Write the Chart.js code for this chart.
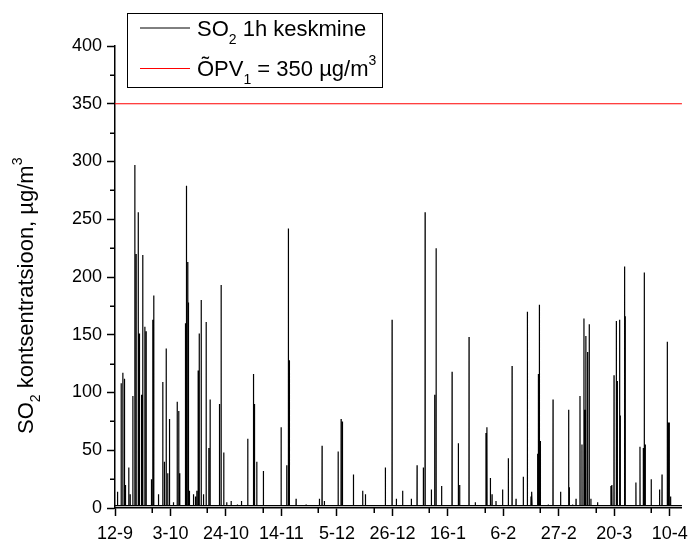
<!DOCTYPE html>
<html>
<head>
<meta charset="utf-8">
<script src="https://cdn.jsdelivr.net/npm/chart.js@4.4.1/dist/chart.umd.min.js"></script>
<style>
  html, body { margin: 0; padding: 0; background: #fff; }
  canvas { display: block; }
</style>
</head>
<body>
<canvas id="c" width="691" height="541"></canvas>
<script>
// ---- DATA (x = hours since 12-9 00:00) ----
const tickLabels = ['12-9','3-10','24-10','14-11','5-12','26-12','16-1','6-2','27-2','20-3','10-4'];
const yTicks = [0, 50, 100, 150, 200, 250, 300, 350, 400];
const limitValue = 350;
const seriesName = 'SO₂ 1h keskmine';
const limitName = 'ÕPV₁ = 350 µg/m³';

const hours = [0,
  22,23,24, 55,56,57, 70,71,72, 85,86,87, 94,95,96, 124,125,126, 137,138,139, 161,162,163,
  179,180,181, 191,192,193, 210,211,212, 221,222,223, 240,241,242, 251,252,253, 270,271,272, 282,283,284,
  330,331,332, 342,343,344, 351,352,353, 394,395,396, 433,434,435, 448,449,450, 464,465,466, 478,479,480,
  494,495,496, 530,531,532, 564,565,566, 578,579,580, 587,588,589, 639,640,641, 648,649,650, 660,661,662,
  666,667,668, 675,676,677, 712,713,714, 730,731,732, 742,743,744, 754,755,756, 764,765,766, 782,783,784,
  803,804,805, 827,828,829, 851,852,853, 863,864,865, 948,949,950, 963,964,965, 987,988,989, 1014,1015,1016,
  1054,1055,1056, 1111,1112,1113, 1148,1149,1150, 1205,1206,1207, 1257,1258,1259, 1266,1267,1268, 1287,1288,1289, 1347,1348,1349,
  1508,1509,1510, 1559,1560,1561, 1574,1575,1576, 1583,1584,1585, 1644,1645,1646, 1735,1736,1737, 1856,1857,1858, 1880,1881,1882,
  1901,1902,1903, 2026,2027,2028, 2053,2054,2055, 2065,2066,2067, 2165,2166,2167, 2249,2250,2251, 2274,2275,2276, 2455,2456,2457,
  2516,2517,2518, 2555,2556,2557, 2612,2613,2614, 2691,2692,2693, 2743,2744,2745, 2800,2801,2802, 2816,2817,2818, 2873,2874,2875,
  2903,2904,2905, 2916,2917,2918, 2966,2967,2968, 3061,3062,3063, 3118,3119,3120, 3130,3131,3132, 3215,3216,3217, 3272,3273,3274,
  3369,3370,3371, 3378,3379,3380, 3409,3410,3411, 3424,3425,3426, 3460,3461,3462, 3520,3521,3522, 3572,3573,3574, 3606,3607,3608,
  3642,3643,3644, 3708,3709,3710, 3745,3746,3747, 3778,3779,3780, 3787,3788,3789, 3838,3839,3840, 3845,3846,3847, 3854,3855,3856,
  3863,3864,3865, 3935,3936,3937, 3978,3979,3980, 4047,4048,4049, 4120,4121,4122, 4126,4127,4128, 4156,4157,4158, 4187,4188,4189,
  4223,4224,4225, 4241,4242,4243, 4259,4260,4261, 4268,4269,4270, 4277,4278,4279, 4292,4293,4294, 4307,4308,4309, 4322,4323,4324,
  4383,4384,4385, 4504,4505,4506, 4513,4514,4515, 4532,4533,4534, 4553,4554,4555, 4562,4563,4564, 4583,4584,4585, 4589,4590,4591,
  4628,4629,4630, 4634,4635,4636, 4731,4732,4733, 4768,4769,4770, 4798,4799,4800, 4807,4808,4809, 4816,4817,4818, 4870,4871,4872,
  4946,4947,4948, 4968,4969,4970, 5016,5017,5018, 5025,5026,5027, 5034,5035,5036, 5046,5047,5048, 5150
];

const so2 = [2,
  2,14,2, 2,108,2, 2,117,2, 2,112,2, 2,20,2, 2,35,2, 2,12,2, 2,97,2,
  2,297,2, 2,220,2, 2,256,2, 2,151,2, 2,98,2, 2,219,2, 2,157,2, 2,153,2,
  2,25,2, 2,163,2, 2,184,2, 2,12,2, 2,109,2, 2,40,2, 2,138,2, 2,30,2,
  2,77,2, 2,5,2, 2,92,2, 2,84,2, 2,30,2, 2,160,2, 2,279,2, 2,213,2,
  2,178,2, 2,15,2, 2,12,2, 2,10,2, 2,15,2, 2,119,2, 2,151,2, 2,180,2,
  2,12,2, 2,161,2, 2,52,2, 2,94,2, 2,90,2, 2,193,2, 2,48,2, 2,5,2,
  2,6,2, 2,3,2, 2,6,2, 2,60,2, 2,116,2, 2,90,2, 2,40,2, 2,32,2,
  2,70,2, 2,37,2, 2,242,2, 2,128,2, 2,8,2, 2,3,2, 2,8,2, 2,54,2,
  2,6,2, 2,49,2, 2,77,2, 2,75,2, 2,29,2, 2,15,2, 2,12,2, 2,35,2,
  2,163,2, 2,8,2, 2,15,2, 2,8,2, 2,37,2, 2,35,2, 2,256,2, 2,16,2,
  2,98,2, 2,225,2, 2,19,2, 2,118,2, 2,56,2, 2,20,2, 2,148,2, 2,5,2,
  2,65,2, 2,70,2, 2,26,2, 2,12,2, 2,6,2, 2,16,2, 2,43,2, 2,123,2,
  2,8,2, 2,27,2, 2,170,2, 2,10,2, 2,14,2, 2,47,2, 2,116,2, 2,176,2,
  2,58,2, 2,3,2, 2,94,2, 2,14,2, 2,85,2, 2,18,2, 2,3,2, 2,8,2,
  2,97,2, 2,55,2, 2,164,2, 2,85,2, 2,149,2, 2,135,2, 2,159,2, 2,8,2,
  2,5,2, 2,19,2, 2,20,2, 2,115,2, 2,162,2, 2,110,2, 2,163,2, 2,80,2,
  2,209,2, 2,166,2, 2,22,2, 2,53,2, 2,52,2, 2,204,2, 2,55,2, 2,25,2,
  2,16,2, 2,29,2, 2,144,2, 2,74,2, 2,74,2, 2,10,2, 2
];

const HOURS_PER_TICK = 504;   // 21 days between labelled ticks
const X_MAX = 5150;
const FONT = '"Liberation Sans", Arial, Helvetica, sans-serif';

if (hours.length !== so2.length) console.error('length mismatch', hours.length, so2.length);

// ---- custom drawing: minor ticks, legend, y title ----
function drawRich(ctx, parts, x, y) {
  let cx = x;
  parts.forEach(p => {
    ctx.font = p.size + 'px ' + FONT;
    ctx.fillText(p.t, cx, y + (p.dy || 0));
    cx += ctx.measureText(p.t).width;
  });
}

const decor = {
  id: 'decor',
  afterDraw(chart) {
    const ctx = chart.ctx;
    const xs = chart.scales.x, ys = chart.scales.y;
    const area = chart.chartArea;
    ctx.save();
    ctx.strokeStyle = '#000';
    ctx.lineWidth = 1.5;
    // y minor ticks
    for (let v = 25; v < 400; v += 50) {
      const py = Math.round(ys.getPixelForValue(v)) + 0.25;
      ctx.beginPath(); ctx.moveTo(area.left - 5, py); ctx.lineTo(area.left, py); ctx.stroke();
    }
    // x minor ticks
    for (let i = 0; i < tickLabels.length; i++) {
      const v = i * HOURS_PER_TICK + 336;
      if (v > X_MAX) break;
      const px = Math.round(xs.getPixelForValue(v)) + 0.25;
      ctx.beginPath(); ctx.moveTo(px, area.bottom); ctx.lineTo(px, area.bottom + 5); ctx.stroke();
    }
    // legend
    ctx.lineWidth = 1;
    ctx.strokeRect(127.5, 13.5, 255, 74);
    ctx.beginPath(); ctx.moveTo(140, 28); ctx.lineTo(190, 28);
    ctx.strokeStyle = '#000'; ctx.stroke();
    ctx.beginPath(); ctx.moveTo(140, 68.5); ctx.lineTo(190, 68.5);
    ctx.strokeStyle = '#ff0000'; ctx.lineWidth = 1.2; ctx.stroke();
    ctx.fillStyle = '#000';
    ctx.textBaseline = 'alphabetic';
    ctx.textAlign = 'left';
    drawRich(ctx, [{t:'SO', size:22}, {t:'2', size:14, dy:8}, {t:' 1h keskmine', size:22}], 197, 36);
    drawRich(ctx, [{t:'ÕPV', size:22}, {t:'1', size:14, dy:8}, {t:' = 350 µg/m', size:22}, {t:'3', size:14, dy:-11}], 197, 76);
    // y axis title
    ctx.save();
    ctx.translate(33, 434);
    ctx.rotate(-Math.PI / 2);
    drawRich(ctx, [{t:'SO', size:22}, {t:'2', size:14, dy:7}, {t:' kontsentratsioon, µg/m', size:22}, {t:'3', size:14, dy:-11}], 0, 0);
    ctx.restore();
    ctx.restore();
  }
};

new Chart(document.getElementById('c'), {
  type: 'line',
  data: {
    datasets: [
      {
        label: seriesName,
        data: hours.map((h, i) => ({ x: h, y: so2[i] })),
        borderColor: '#000000',
        borderWidth: 1.2,
        pointRadius: 0,
        tension: 0,
        fill: false
      },
      {
        label: limitName,
        data: [{ x: 0, y: limitValue }, { x: X_MAX, y: limitValue }],
        borderColor: '#ff0000',
        borderWidth: 1.2,
        pointRadius: 0,
        tension: 0,
        fill: false
      }
    ]
  },
  options: {
    responsive: false,
    animation: false,
    layout: { padding: { left: 0, right: 8, top: 46, bottom: 0 } },
    plugins: { legend: { display: false }, tooltip: { enabled: false } },
    scales: {
      x: {
        type: 'linear',
        min: 0,
        max: X_MAX,
        afterBuildTicks: s => { s.ticks = tickLabels.map((_, i) => ({ value: i * HOURS_PER_TICK })); },
        ticks: {
          callback: v => tickLabels[Math.round(v / HOURS_PER_TICK)],
          font: { family: FONT, size: 18, lineHeight: 1.65 },
          color: '#000',
          padding: 3,
          maxRotation: 0,
          autoSkip: false
        },
        grid: { drawOnChartArea: false, drawTicks: true, tickLength: 8, tickColor: '#000', tickWidth: 1.5 },
        border: { color: '#000', width: 1.5 },
        afterFit: s => { s.height = 33; }
      },
      y: {
        min: 0,
        max: 400,
        afterBuildTicks: s => { s.ticks = yTicks.map(v => ({ value: v })); },
        ticks: {
          font: { family: FONT, size: 18 },
          color: '#000',
          padding: 5
        },
        grid: { drawOnChartArea: false, drawTicks: true, tickLength: 8, tickColor: '#000', tickWidth: 1.5 },
        border: { color: '#000', width: 1.5 },
        afterFit: s => { s.width = 115; }
      }
    }
  },
  plugins: [decor]
});
</script>
</body>
</html>
